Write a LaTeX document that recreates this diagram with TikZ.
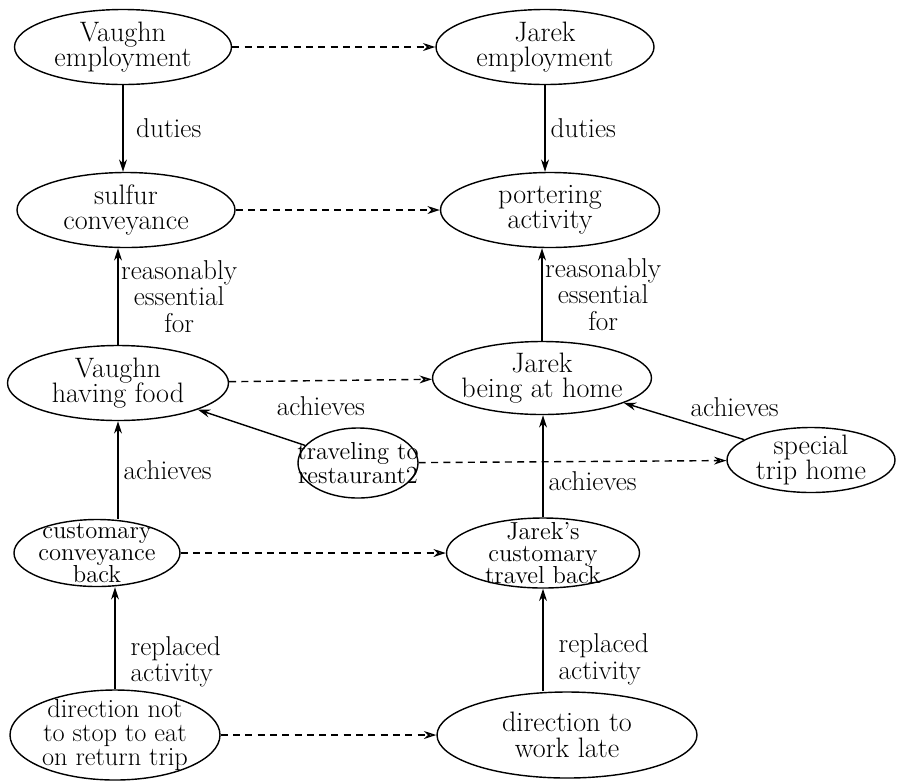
\documentclass[tikz,border=0pt]{standalone}
\usetikzlibrary{shapes.geometric,arrows.meta}
\begin{document}
\begin{tikzpicture}[
  ev/.style={draw, ellipse, line width=0.8pt, inner sep=0pt},
  evtext/.style={align=center, inner sep=0pt, font=\fontsize{16}{14.5}\selectfont},
  tighttext/.style={align=center, inner sep=0pt, font=\fontsize{14}{12.6}\selectfont},
  smalltext/.style={align=center, inner sep=0pt, font=\fontsize{14}{13.5}\selectfont},
  arr/.style={line width=0.8pt, -{Stealth[length=7pt,width=4.5pt]}},
  dasharr/.style={line width=0.8pt, dash pattern=on 4pt off 3pt, -{Stealth[open,length=7pt,width=4.5pt]}},
  lbl/.style={font=\fontsize{15.5}{15.2}\selectfont, align=center, inner sep=0pt}
]
  \useasboundingbox (0,0) rectangle (18.02,-15.64);

  \node[ev, minimum width=4.34cm, minimum height=1.5cm, label={[evtext]center:{Vaughn\\employment}}] (vemp) at (2.46,-0.94) {};
  \node[ev, minimum width=4.36cm, minimum height=1.5cm, label={[evtext]center:{Jarek\\employment}}] (jemp) at (10.9,-0.94) {};
  \node[ev, minimum width=4.36cm, minimum height=1.5cm, label={[evtext]center:{sulfur\\conveyance}}] (sulfur) at (2.52,-4.2) {};
  \node[ev, minimum width=4.38cm, minimum height=1.5cm, label={[evtext]center:{portering\\activity}}] (port) at (11.0,-4.2) {};
  \node[ev, minimum width=4.42cm, minimum height=1.5cm, label={[evtext]center:{Vaughn\\having food}}] (vfood) at (2.36,-7.66) {};
  \node[ev, minimum width=4.38cm, minimum height=1.46cm, label={[evtext]center:{Jarek\\being at home}}] (jhome) at (10.84,-7.56) {};
  \node[ev, minimum width=2.4cm, minimum height=1.4cm, label={[smalltext]center:{traveling to\\restaurant2}}] (trav) at (7.16,-9.26) {};
  \node[ev, minimum width=3.36cm, minimum height=1.3cm, label={[evtext]center:{special\\trip home}}] (special) at (16.22,-9.2) {};
  \node[ev, minimum width=3.32cm, minimum height=1.34cm, label={[tighttext]center:{customary\\conveyance\\back}}] (conv) at (1.94,-11.06) {};
  \node[ev, minimum width=3.86cm, minimum height=1.4cm, label={[tighttext]center:{Jarek's\\customary\\travel back}}] (jcust) at (10.86,-11.06) {};
  \node[ev, minimum width=4.2cm, minimum height=1.8cm, label={[evtext, font=\fontsize{15}{13.5}\selectfont]center:{direction not\\to stop to eat\\on return trip}}] (dirnot) at (2.3,-14.7) {};
  \node[ev, minimum width=5.2cm, minimum height=1.72cm, label={[evtext]center:{direction to\\work late}}] (dwork) at (11.34,-14.7) {};

  \draw[dasharr] (vemp) -- (jemp);
  \draw[dasharr] (sulfur) -- (port);
  \draw[dasharr] (vfood) -- (jhome);
  \draw[dasharr] (trav) -- (special);
  \draw[dasharr] (conv) -- (jcust);
  \draw[dasharr] (dirnot) -- (dwork);

  \draw[arr] (vemp.south) -- (vemp.south |- sulfur.north) node[lbl, midway, right=0.25cm] {duties};
  \draw[arr] (jemp.south) -- (jemp.south |- port.north) node[lbl, midway, right=0.1cm] {duties};
  \draw[arr] (vfood.north) -- (vfood.north |- sulfur.south) node[lbl, midway, right=0.05cm] {reasonably\\essential\\for};
  \draw[arr] (jhome.north) -- (jhome.north |- port.south) node[lbl, midway, right=0.05cm] {reasonably\\essential\\for};
  \draw[arr] (conv.north -| vfood.south) -- (vfood.south) node[lbl, midway, right=0.1cm] {achieves};
  \draw[arr] (jcust.north) -- (jcust.north |- jhome.south) node[lbl, pos=0.35, right=0.1cm] {achieves};
  \draw[arr] (trav) -- (vfood) node[lbl, pos=0.27, anchor=south west, yshift=0.38cm] {achieves};
  \draw[arr] (special) -- (jhome) node[lbl, pos=0.45, anchor=south west, yshift=0.12cm] {achieves};
  \draw[arr] (dirnot.north) -- (dirnot.north |- conv.south) node[lbl, align=left, pos=0.27, right=0.3cm] {replaced\\activity};
  \draw[arr] (dwork.north -| jcust.south) -- (jcust.south) node[lbl, align=left, pos=0.31, right=0.3cm] {replaced\\activity};
\end{tikzpicture}
\end{document}
